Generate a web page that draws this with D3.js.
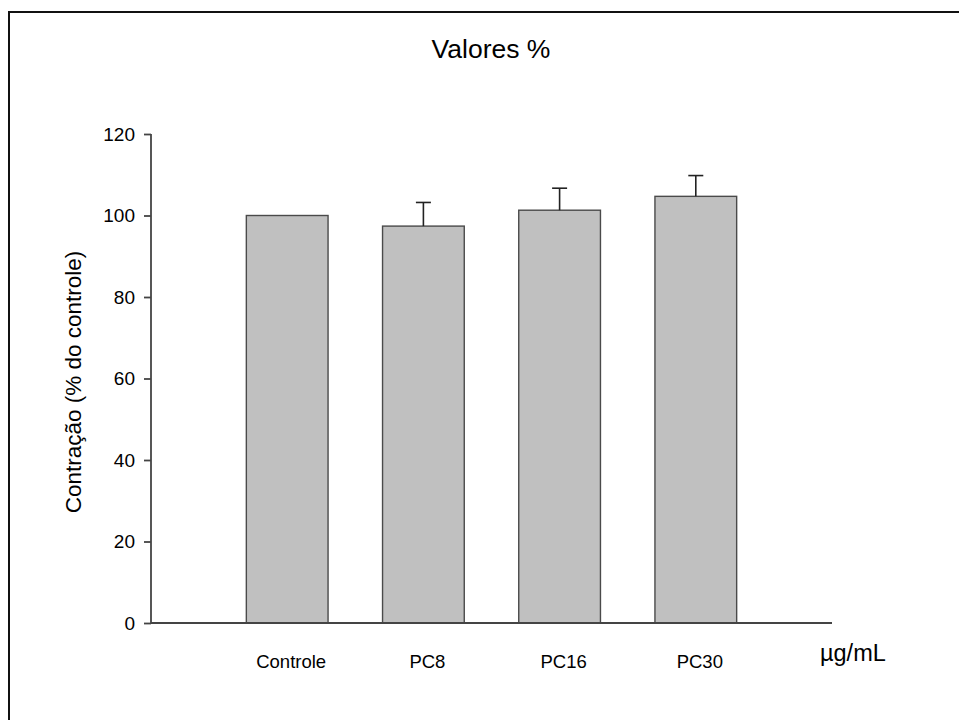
<!DOCTYPE html>
<html>
<head>
<meta charset="utf-8">
<script src="https://cdn.jsdelivr.net/npm/d3@7"></script>
<style>
  html, body { margin: 0; padding: 0; background: #fff; }
  svg { display: block; }
  text { font-family: "Liberation Sans", Arial, Helvetica, sans-serif; fill: #000; }
</style>
</head>
<body>
<svg id="chart" width="959" height="720"></svg>
<script>
// Contraction as % of control, mean with upper SD bar
const categories = ["Controle", "PC8", "PC16", "PC30"];
const means      = [100, 97.4, 101.3, 104.7];
const errors     = [0, 5.8, 5.4, 5.1];
const yTicks     = [0, 20, 40, 60, 80, 100, 120];
const title      = "Valores %";
const yLabel     = "Contração (% do controle)";
const unitLabel  = "µg/mL";

const svg = d3.select("#chart");

// outer frame (only the top and left edges fall inside the view)
svg.append("rect")
  .attr("x", 9).attr("y", 12)
  .attr("width", 1000).attr("height", 800)
  .attr("fill", "none").attr("stroke", "#111").attr("stroke-width", 2);

const x0 = 151, x1 = 832, yBottom = 623, yTop = 134;

// bars sit at positions 1..4 on a 0..5 axis
const x = d3.scaleLinear().domain([0, categories.length + 1]).range([x0, x1]);
const y = d3.scaleLinear().domain([0, 120]).range([yBottom, yTop]);
const barW = x(0.6) - x(0);

const axisColor = "#444";

// bars
const g = svg.append("g");
g.selectAll("rect.bar")
  .data(categories)
  .join("rect")
  .attr("class", "bar")
  .attr("x", (d, i) => x(i + 1) - barW / 2)
  .attr("y", (d, i) => y(means[i]))
  .attr("width", barW)
  .attr("height", (d, i) => y(0) - y(means[i]))
  .attr("fill", "#c0c0c0")
  .attr("stroke", "#4a4a4a")
  .attr("stroke-width", 1.4);

// upper error bars
const capW = 15;
categories.forEach((c, i) => {
  if (errors[i] <= 0) return;
  const cx = x(i + 1);
  g.append("line")
    .attr("x1", cx).attr("x2", cx)
    .attr("y1", y(means[i])).attr("y2", y(means[i] + errors[i]))
    .attr("stroke", "#222").attr("stroke-width", 1.6);
  g.append("line")
    .attr("x1", cx - capW / 2).attr("x2", cx + capW / 2)
    .attr("y1", y(means[i] + errors[i])).attr("y2", y(means[i] + errors[i]))
    .attr("stroke", "#222").attr("stroke-width", 1.6);
});

// y axis
const yAxis = d3.axisLeft(y).tickValues(yTicks).tickSize(7).tickPadding(9);
const ya = svg.append("g").attr("transform", `translate(${x0},0)`).call(yAxis);
ya.attr("font-size", null).attr("font-family", null);
ya.select(".domain").attr("stroke", axisColor).attr("stroke-width", 1.8)
  .attr("d", `M0,${yTop}V${yBottom}`);
ya.selectAll(".tick line").attr("stroke", axisColor).attr("stroke-width", 1.8);
ya.selectAll(".tick text")
  .style("font-size", "19px").attr("fill", "#000");

// x axis baseline
svg.append("line")
  .attr("x1", x0).attr("x2", x1)
  .attr("y1", yBottom).attr("y2", yBottom)
  .attr("stroke", axisColor).attr("stroke-width", 1.8);

// category labels
svg.selectAll("text.cat")
  .data(categories)
  .join("text")
  .attr("class", "cat")
  .attr("x", (d, i) => x(i + 1) + 4)
  .attr("y", 668)
  .attr("text-anchor", "middle")
  .style("font-size", "18.5px")
  .text(d => d);

// unit label
svg.append("text")
  .attr("x", 820).attr("y", 661)
  .style("font-size", "23.5px")
  .text(unitLabel);

// title
svg.append("text")
  .attr("x", 491).attr("y", 58)
  .attr("text-anchor", "middle")
  .style("font-size", "26.5px")
  .text(title);

// y axis title
svg.append("text")
  .attr("transform", "translate(81,382) rotate(-90)")
  .attr("text-anchor", "middle")
  .style("font-size", "22.5px")
  .text(yLabel);
</script>
</body>
</html>
